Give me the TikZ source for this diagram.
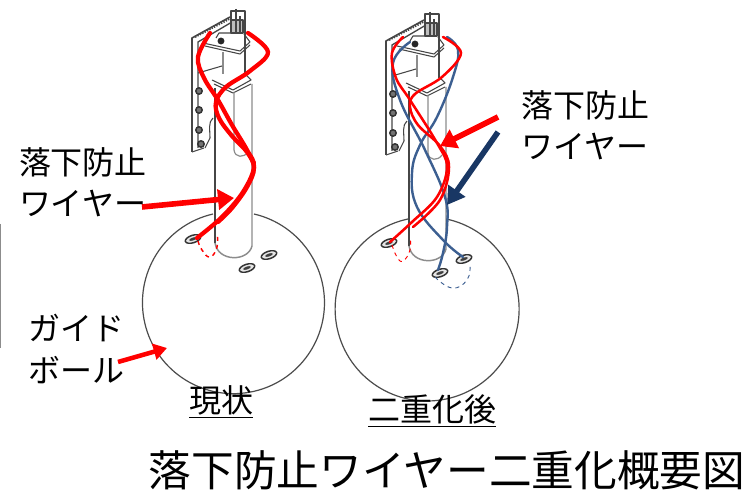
\documentclass[tikz,border=0pt]{standalone}
\usepackage{fontspec}
\setmainfont{Noto Sans CJK JP}
\usetikzlibrary{arrows.meta}
\definecolor{wred}{RGB}{255,0,0}
\definecolor{wblue}{RGB}{60,95,145}
\definecolor{anavy}{RGB}{25,55,100}
\definecolor{lgray}{RGB}{70,70,70}
\definecolor{mgray}{RGB}{140,140,140}
\tikzset{
 every node/.style={inner sep=0pt,outer sep=0pt,font=\fontsize{24pt}{31pt}\selectfont,align=left,text=black},
 part/.style={draw=lgray,line width=.8pt,line join=round},
 soft part/.style={draw=mgray,line width=.9pt,line join=round},
 ball/.style={draw=black!70,line width=.9pt},
 hole/.style={draw=black!80,line width=1.1pt,fill=black!10},
 hole core/.style={fill=black!75},
 redarrow/.style={draw=wred,line width=4.2pt,-{Triangle[length=12pt,width=15pt]}},
 smallred/.style={draw=wred,line width=3.4pt,-{Triangle[length=10pt,width=12pt]}},
 navyarrow/.style={draw=anavy,line width=4.2pt,-{Triangle[length=13pt,width=15pt]}},
 red thick/.style={draw=wred,line width=3.2pt,line cap=round},
 red thin/.style={draw=wred,line width=1.9pt,line cap=round},
 blue wire/.style={draw=wblue,line width=1.8pt,line cap=round},
}
\newcommand{\ballhole}[2]{%
 \draw[hole,rotate around={18:(#1,#2)}] (#1,#2) ellipse (6pt and 2.8pt);
 \fill[hole core,rotate around={18:(#1,#2)}] (#1,#2) ellipse (3pt and 1.1pt);}
\newcommand{\assembly}[2]{%
\begin{scope}[shift={(#1,#2)}]
 % bracket
 \draw[part,line width=1.2pt] (192,152) -- (192,38) -- (230,17);
 \draw[part,line width=1pt] (198,148) -- (198,42) -- (232,22);
 \draw[part] (192,152) -- (204,148);
 \draw[part,line width=1.6pt,dash pattern=on 1pt off 1pt] (195,37) -- (231,18);
 % top hardware
 \draw[part,line width=1.2pt] (245,75) -- (245,11) -- (231,11) -- (231,22);
 \draw[part,line width=1.6pt,fill=black!25] (231,20) rectangle (243,33);
 \draw[part,line width=1.6pt] (236,9) -- (236,34);
 \draw[part,line width=1.2pt] (240,16) -- (240,34);
 % upper plate
 \draw[part] (203,43) -- (240,51) -- (250,42) -- (244,34);
 \draw[part] (205,46) -- (240,54) -- (250,45);
 \fill[black!85] (221,41) circle (2.6pt);
 \draw[part] (216,38) -- (219,33) -- (232,33);
 % sleeve
 \draw[soft part] (223,52) -- (223,74);
 % lower plate
 \draw[part] (212,80) -- (233,90) -- (251,80) -- (245,74);
 \draw[part] (214,84) -- (233,93) -- (251,84);
 \draw[part] (198,73) -- (222,66);
 % pipe
 \draw[part,line width=1.2pt] (215,88) -- (215,243);
 \draw[soft part,line width=1.1pt] (215,243) .. controls (218,262) and (248,262) .. (252,246) -- (252,84);
 \draw[soft part] (234,92) -- (234,150) .. controls (235,158) and (244,158) .. (248,152);
 % bracket holes
 \foreach \hx/\hy in {199/91,199/110,199/130,201/144}{
  \draw[hole,fill=black!55] (\hx,\hy) circle (2.4pt);
 }
 \draw[part] (213,118) .. controls (208,122) and (210,130) .. (210,138) -- (205,148);
\end{scope}}
\begin{document}
\begin{tikzpicture}[x=0.75pt,y=-0.75pt]
\useasboundingbox (0,0) rectangle (747,491);
\fill[white] (0,0) rectangle (747,491);
\draw[draw=black!45,line width=.7pt] (0.5,224) -- (0.5,348);

% LEFT
\assembly{0}{0}
\draw[ball] (213,214) arc[start angle=257,end angle=-77,radius=91];
\ballhole{193}{239}
\ballhole{247}{268}
\ballhole{269}{255}
\draw[draw=wred,line width=1.1pt,dashed] plot[smooth,tension=.8] coordinates {(198,241) (202,250) (210,257) (217,247) (217,233)};
% wires left
\draw[red thick] plot[smooth,tension=.6] coordinates {(210,33) (198,57) (204,78) (218,100) (232,125) (247,150) (254,167) (243,192) (222,217) (197,238)};
\draw[red thick] plot[smooth,tension=.6] coordinates {(248,33) (268,52) (250,71) (226,87) (216,102) (219,118) (232,136) (247,152) (254,168) (247,187) (232,208) (218,222)};

\coordinate (a1s) at (142,207);
\coordinate (a1e) at (234,198);
\draw[redarrow] (a1s) -- (a1e);
\node[anchor=west] (t1) at (19,182) {落下防止\\ワイヤー};

% RIGHT
\assembly{194}{3}
\draw[ball] (408,219) arc[start angle=258,end angle=-78,radius=92];
\ballhole{389}{243}
\ballhole{440}{273}
\ballhole{464}{259}
\draw[draw=wred,line width=.7pt,dashed] plot[smooth,tension=.8] coordinates {(392,245) (397,257) (403,261) (410,250) (410,237)};
\draw[draw=wblue,line width=.7pt,dashed] plot[smooth,tension=.8] coordinates {(435,277) (452,288) (467,280) (470,265)};
% blue wires
\draw[blue wire] plot[smooth,tension=.7] coordinates {(410,42) (393,63) (400,100) (425,150) (445,197) (447,227) (443,253) (438,270)};
\draw[blue wire] plot[smooth,tension=.7] coordinates {(447,37) (458,50) (453,77) (437,117) (420,145) (412,173) (417,207) (443,240) (463,257)};
% red wires
\draw[red thin] plot[smooth,tension=.6] coordinates {(403,37) (392,53) (396,78) (410,100) (437,143) (447,167) (437,197) (412,222) (390,242)};
\draw[red thin] plot[smooth,tension=.6] coordinates {(443,37) (461,53) (442,77) (415,94) (410,107) (418,125) (440,146) (449,167) (440,200) (413,227)};

\coordinate (a2s) at (498,117);
\coordinate (a2e) at (440,146);
\draw[redarrow] (a2s) -- (a2e);
\coordinate (a3s) at (498,132);
\coordinate (a3e) at (447,205);
\draw[navyarrow] (a3s) -- (a3e);
\node[anchor=west] (t2) at (521,125) {落下防止\\ワイヤー};

% labels
\node[anchor=west] (t3) at (28,349) {ガイド\\ボール};
\coordinate (a4s) at (118,362);
\coordinate (a4e) at (167,348);
\draw[smallred] (a4s) -- (a4e);
\node[anchor=center] (t4) at (221,402) {\underline{現状}};
\node[anchor=center] (t5) at (432,411) {\underline{二重化後}};
\node[anchor=center,font=\fontsize{32pt}{38pt}\selectfont] (t6) at (447,470) {落下防止ワイヤー二重化概要図};
\end{tikzpicture}
\end{document}
